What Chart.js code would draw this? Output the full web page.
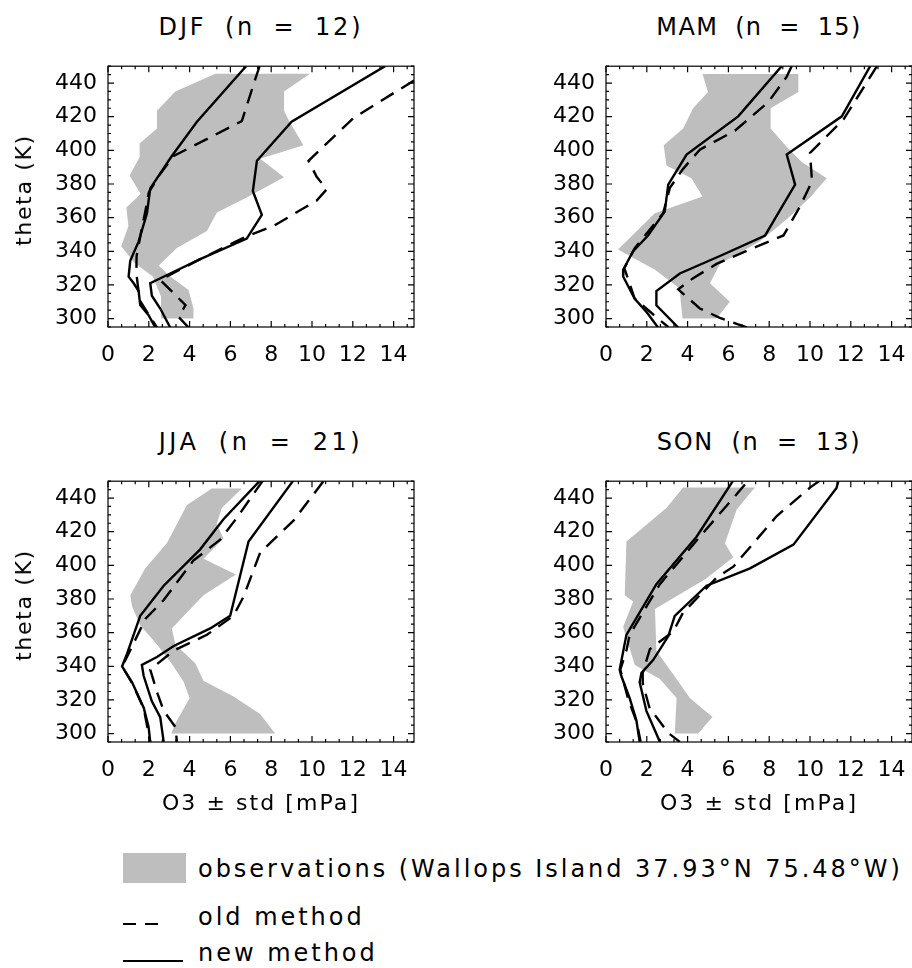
<!DOCTYPE html>
<html>
<head>
<meta charset="utf-8">
<script src="https://cdn.jsdelivr.net/npm/chart.js@4/dist/chart.umd.min.js"></script>
<style>
  html, body { margin: 0; padding: 0; background: #fff; }
  #page { position: relative; width: 912px; height: 968px; overflow: hidden; background: #fff;
          font-family: "DejaVu Sans", sans-serif; color: #000; }
  #page canvas { position: absolute; }
  .txt { position: absolute; white-space: pre; line-height: 1; }
</style>
</head>
<body>
<div id="page"></div>
<script>
// Ozone partial pressure (mPa) at potential temperature theta (K): [O3, theta]
// Each band edge is mean - std (Low) or mean + std (High).

// ---- DJF ----
const djfObsLow  = [[5.26,445.5],[3.3,435],[2.4,423.5],[2.4,413],[1.55,404],[1.55,396],[1.06,385],[1.6,374],[0.9,366],[1.0,355],[0.65,343],[1.3,333],[2.2,325],[2.6,313],[2.6,300]];
const djfObsHigh = [[9.9,445.5],[8.63,435],[8.63,423.5],[8.9,417],[9.58,403],[7.46,395],[8.63,384],[6.8,372],[5.34,363],[4.85,352],[3.38,342],[2.48,331.5],[3.05,325],[3.95,317],[4.19,306],[4.19,300]];
const djfOldLow  = [[7.43,450],[7.13,439],[6.56,417.4],[3.22,396.6],[2.5,385],[2.0,375],[1.85,365],[1.6,350],[1.4,337],[1.39,327],[1.55,311],[2.07,301],[2.4,294.7]];
const djfOldHigh = [[15.0,441.5],[12.03,419.2],[9.83,393.8],[10.23,384.3],[10.72,376.8],[10.23,370.2],[8.11,355],[6.8,349],[4.52,335.3],[2.56,323],[3.8,308],[3.46,301],[3.95,294.7]];
const djfNewLow  = [[6.77,450],[4.36,417],[3.13,396.6],[2.07,377.4],[1.91,362.6],[1.5,345.7],[1.09,334.3],[1.01,324.9],[1.26,321],[1.5,316.4],[1.58,308],[1.99,302],[2.32,294.7]];
const djfNewHigh = [[13.58,450],[9.0,417],[7.3,393.8],[7.1,375.8],[7.54,361.7],[6.8,347.5],[4.52,335.3],[3.05,326.8],[2.07,321.1],[2.15,313.6],[2.56,306],[3.05,294.7]];

// ---- MAM ----
const mamObsLow  = [[4.73,445.3],[5.0,434.7],[4.27,425],[3.78,413],[2.83,403],[2.96,391],[4.19,383.4],[4.73,372.5],[2.39,362.6],[0.59,341],[2.4,329],[3.6,318],[3.75,300]];
const mamObsHigh = [[9.43,445.3],[9.43,434.7],[8.07,425],[8.07,413],[8.86,402],[9.6,393],[10.82,383.4],[10.0,372],[8.86,359],[7.55,346],[5.58,332.5],[5.1,321],[6.07,310],[5.42,300]];
const mamOldLow  = [[9.1,450],[8.86,443.8],[7.96,428.7],[6.32,411.7],[4.6,400.4],[3.78,389],[3.13,377.7],[2.8,362.6],[1.41,341.9],[0.9,330],[1.4,312],[2.55,300],[3.05,295]];
const mamOldHigh = [[13.28,450],[11.64,418.3],[10.0,398.5],[10.1,381.5],[9.5,366.4],[8.7,349.4],[7.22,341.9],[5.42,332.5],[4.27,324],[3.54,317.4],[4.6,306],[5.58,300.4],[6.9,294.7]];
const mamNewLow  = [[8.61,450],[6.48,420.2],[3.95,397.5],[3.05,379.6],[2.88,363.6],[2.06,349.4],[1.33,340],[0.87,329.6],[0.84,325],[1.41,311.7],[1.98,304],[2.55,294.7]];
const mamNewHigh = [[12.95,450],[11.56,420.2],[8.86,397.5],[9.27,379.6],[8.53,364.5],[7.8,349.4],[5.75,338.1],[3.62,326.8],[2.47,316.4],[2.47,307.9],[3.54,294.7]];

// ---- JJA ----
const jjaObsLow  = [[5.09,445.7],[3.87,435.9],[3.38,424.6],[2.89,413.3],[1.83,398.2],[1.09,382.2],[1.18,375.6],[1.58,364.4],[2.4,353],[3.1,342],[3.7,331],[4.0,321],[3.3,306],[3.1,300]];
const jjaObsHigh = [[6.56,445.7],[5.58,434],[5.33,424.6],[5.66,416],[4.68,403.9],[6.27,394.5],[4.68,382.2],[3.87,371.9],[3.13,362.5],[3.3,353],[4.28,341.8],[4.68,331.4],[6.15,322],[7.46,311.7],[8.19,300]];
const jjaOldLow  = [[7.6,450.5],[6.32,428.3],[5.5,415.2],[4.19,402.9],[2.73,379.4],[1.83,368.1],[0.93,345.5],[0.69,340],[1.18,330],[1.75,315],[2.07,295.1]];
const jjaOldHigh = [[10.56,450],[9.09,426.5],[7.46,407.6],[6.64,381.3],[6.15,370],[4.85,358.7],[3.22,349.3],[2.07,338],[2.4,324.8],[2.73,313.5],[3.3,304],[3.38,295.1]];
const jjaNewLow  = [[7.46,450.5],[5.66,427.4],[4.52,409.5],[2.73,387.9],[1.58,370],[0.93,347.4],[0.69,339.9],[1.18,330.5],[1.75,315.4],[1.99,304],[2.07,295.1]];
const jjaNewHigh = [[9.09,450.5],[6.89,414.2],[5.99,370],[5.01,362.5],[3.22,352.1],[2.4,345.5],[1.66,340.8],[1.75,334.2],[2.15,319.2],[2.56,309.8],[2.73,295.1]];

// ---- SON ----
const sonObsLow  = [[3.78,446.2],[2.96,434],[1.0,414.2],[0.92,382.2],[1.33,378.5],[0.84,363.4],[1.41,340.8],[2.64,332.4],[3.46,321.1],[3.37,300]];
const sonObsHigh = [[7.3,446.2],[6.4,433],[5.83,413],[6.24,404.8],[4.9,392],[2.4,374],[2.47,349.3],[3.46,332.4],[4.11,321.1],[5.22,309.8],[4.52,300]];
const sonOldLow  = [[6.81,448],[4.6,417],[2.64,388.8],[1.16,358.7],[1.0,349.3],[0.7,338],[1.1,320],[1.5,307],[1.7,295.1]];
const sonOldHigh = [[10.5,450.5],[10.0,446.2],[8.37,429.3],[6.24,399.2],[5.42,392.6],[3.78,371.9],[3.29,360.6],[2.15,350.2],[1.8,336],[1.8,330],[2.15,314.5],[2.47,309.8],[3.05,300.4],[3.62,295.1]];
const sonNewLow  = [[6.24,450.5],[4.44,417],[2.47,388.8],[1.0,358.7],[0.67,338],[0.75,334.2],[1.16,321.1],[1.49,307.9],[1.65,295.1]];
const sonNewHigh = [[11.4,450.5],[11.3,446],[9.19,412.3],[7.06,398.2],[4.93,387.9],[3.37,370],[3.05,357.8],[2.31,343.7],[1.74,336.1],[1.65,330.5],[1.98,313.5],[2.64,295.1]];

// Seasons and sample counts
const seasons = ['DJF', 'MAM', 'JJA', 'SON'];
const sampleCounts = [12, 15, 21, 13];

// Axis labelling
const xTickLabels = [0, 2, 4, 6, 8, 10, 12, 14];
const yTickLabels = [300, 320, 340, 360, 380, 400, 420, 440];
const xRange = [0, 15];
const yRange = [295, 450];

const OBS_GRAY = '#bebebe';
const FONT = '"DejaVu Sans", sans-serif';
const page = document.getElementById('page');

// Box frame with inward major/minor ticks on all four sides
const frameTicks = {
  id: 'frameTicks',
  afterDatasetsDraw(chart) {
    const { ctx, chartArea: a, scales: { x, y } } = chart;
    ctx.save();
    ctx.strokeStyle = '#000';
    ctx.lineWidth = 1.2;
    ctx.strokeRect(a.left, a.top, a.right - a.left, a.bottom - a.top);
    ctx.beginPath();
    for (let k = 0; k * 2 / 3 <= xRange[1] + 1e-6; k++) {
      const px = x.getPixelForValue(k * 2 / 3);
      const len = k % 3 === 0 ? 6 : 3;
      ctx.moveTo(px, a.bottom); ctx.lineTo(px, a.bottom - len);
      ctx.moveTo(px, a.top); ctx.lineTo(px, a.top + len);
    }
    for (let v = yRange[0]; v <= yRange[1]; v += 5) {
      const py = y.getPixelForValue(v);
      const len = v % 20 === 0 ? 6 : 3;
      ctx.moveTo(a.left, py); ctx.lineTo(a.left + len, py);
      ctx.moveTo(a.right, py); ctx.lineTo(a.right - len, py);
    }
    ctx.stroke();
    ctx.restore();
  }
};

const asPoints = arr => arr.map(([x, y]) => ({ x, y }));

function lineSet(arr, dash) {
  return {
    data: asPoints(arr), showLine: true, borderColor: '#000', borderWidth: 2.4,
    borderDash: dash, pointRadius: 0, fill: false, tension: 0, order: 1
  };
}

// Text helper: anchor (x, baseline y), optional centering / rotation,
// letter spacing chosen so the string spans the given width.
function addText(str, o) {
  const d = document.createElement('div');
  d.className = 'txt';
  d.textContent = str;
  d.style.fontSize = o.size + 'px';
  if (o.wordSpacing) d.style.wordSpacing = o.wordSpacing + 'px';
  page.appendChild(d);
  if (o.width) {
    const w0 = d.offsetWidth;
    d.style.letterSpacing = ((o.width - w0) / str.length) + 'px';
  } else if (o.spacing !== undefined) {
    d.style.letterSpacing = o.spacing + 'px';
  }
  const ascent = 0.846 * o.size; // baseline offset for line-height 1
  if (o.rotate) {
    d.style.left = o.x + 'px';
    d.style.top = o.y + 'px';
    d.style.transform = 'translate(-50%, -50%) rotate(-90deg)';
  } else {
    d.style.left = o.x + 'px';
    d.style.top = (o.y - ascent) + 'px';
    if (o.center) d.style.transform = 'translateX(-50%)';
  }
  return d;
}

function makePanel(p) {
  const padL = 80, padT = 10, padR = 10, padB = 50;
  const c = document.createElement('canvas');
  c.width = padL + p.w + padR;
  c.height = padT + p.h + padB;
  c.style.left = (p.left - padL) + 'px';
  c.style.top = (p.top - padT) + 'px';
  page.appendChild(c);

  const band = p.obsLow.concat(p.obsHigh.slice().reverse());

  new Chart(c, {
    type: 'scatter',
    data: {
      datasets: [
        lineSet(p.newLow, []),
        lineSet(p.newHigh, []),
        lineSet(p.oldLow, [15, 9]),
        lineSet(p.oldHigh, [15, 9]),
        { data: asPoints(band), showLine: true, fill: 'shape', backgroundColor: OBS_GRAY,
          borderColor: OBS_GRAY, borderWidth: 0, pointRadius: 0, tension: 0, order: 5 }
      ]
    },
    options: {
      responsive: false, animation: false, events: [],
      layout: { padding: { left: 0, top: padT, right: padR, bottom: 0 } },
      plugins: { legend: { display: false }, tooltip: { enabled: false } },
      scales: {
        x: {
          type: 'linear', position: 'bottom', min: xRange[0], max: xRange[1],
          afterBuildTicks: s => { s.ticks = xTickLabels.map(v => ({ value: v })); },
          afterFit: s => { s.height = padB; },
          grid: { display: false, drawTicks: false }, border: { display: false },
          ticks: { color: '#000', font: { family: FONT, size: 22 }, padding: 15,
                   autoSkip: false, maxRotation: 0, callback: v => String(v) }
        },
        y: {
          type: 'linear', position: 'left', min: yRange[0], max: yRange[1],
          afterBuildTicks: s => { s.ticks = yTickLabels.map(v => ({ value: v })); },
          afterFit: s => { s.width = padL; },
          grid: { display: false, drawTicks: false }, border: { display: false },
          ticks: { color: '#000', font: { family: FONT, size: 22 }, padding: 11,
                   autoSkip: false, callback: v => String(v) }
        }
      }
    },
    plugins: [frameTicks]
  });

  const cx = p.left + p.w / 2;
  addText(p.title, { x: cx, y: p.top - 17, size: 24, width: 205, wordSpacing: 8, center: true });
  if (p.yTitle) {
    addText('theta (K)', { x: 24, y: p.top + p.h / 2, size: 22, width: 112, rotate: true });
  }
  if (p.xTitle) {
    addText('O3 \u00b1 std [mPa]', { x: cx, y: p.top + p.h + 69, size: 22, width: 198, center: true });
  }
}

const W = 306, H = 275;
const panelDefs = [
  { obsLow: djfObsLow, obsHigh: djfObsHigh, oldLow: djfOldLow, oldHigh: djfOldHigh, newLow: djfNewLow, newHigh: djfNewHigh, left: 108, top: 52, yTitle: true, xTitle: false },
  { obsLow: mamObsLow, obsHigh: mamObsHigh, oldLow: mamOldLow, oldHigh: mamOldHigh, newLow: mamNewLow, newHigh: mamNewHigh, left: 606, top: 52, yTitle: false, xTitle: false },
  { obsLow: jjaObsLow, obsHigh: jjaObsHigh, oldLow: jjaOldLow, oldHigh: jjaOldHigh, newLow: jjaNewLow, newHigh: jjaNewHigh, left: 108, top: 467, yTitle: true, xTitle: true },
  { obsLow: sonObsLow, obsHigh: sonObsHigh, oldLow: sonOldLow, oldHigh: sonOldHigh, newLow: sonNewLow, newHigh: sonNewHigh, left: 606, top: 467, yTitle: false, xTitle: true }
];
panelDefs.forEach((p, i) => {
  p.w = W; p.h = H;
  p.title = seasons[i] + ' (n = ' + sampleCounts[i] + ')';
  makePanel(p);
});

// Shared legend
const swatch = document.createElement('div');
Object.assign(swatch.style, { position: 'absolute', left: '123px', top: '853px', width: '63px', height: '30px', background: OBS_GRAY });
page.appendChild(swatch);
const obsLabel = addText('observations (Wallops Island 37.93\u00b0N 75.48\u00b0W)', { x: 198, y: 877, size: 24, width: 705 });
const legendSpacing = parseFloat(obsLabel.style.letterSpacing);
[[123, 136], [145, 158]].forEach(([a, b]) => {
  const d = document.createElement('div');
  Object.assign(d.style, { position: 'absolute', left: a + 'px', top: '923px', width: (b - a) + 'px', height: '1.6px', background: '#000' });
  page.appendChild(d);
});
addText('old method', { x: 198, y: 925, size: 24, spacing: legendSpacing });
{
  const d = document.createElement('div');
  Object.assign(d.style, { position: 'absolute', left: '123px', top: '960px', width: '60px', height: '1.6px', background: '#000' });
  page.appendChild(d);
}
addText('new method', { x: 198, y: 961, size: 24, spacing: legendSpacing });
</script>
</body>
</html>
